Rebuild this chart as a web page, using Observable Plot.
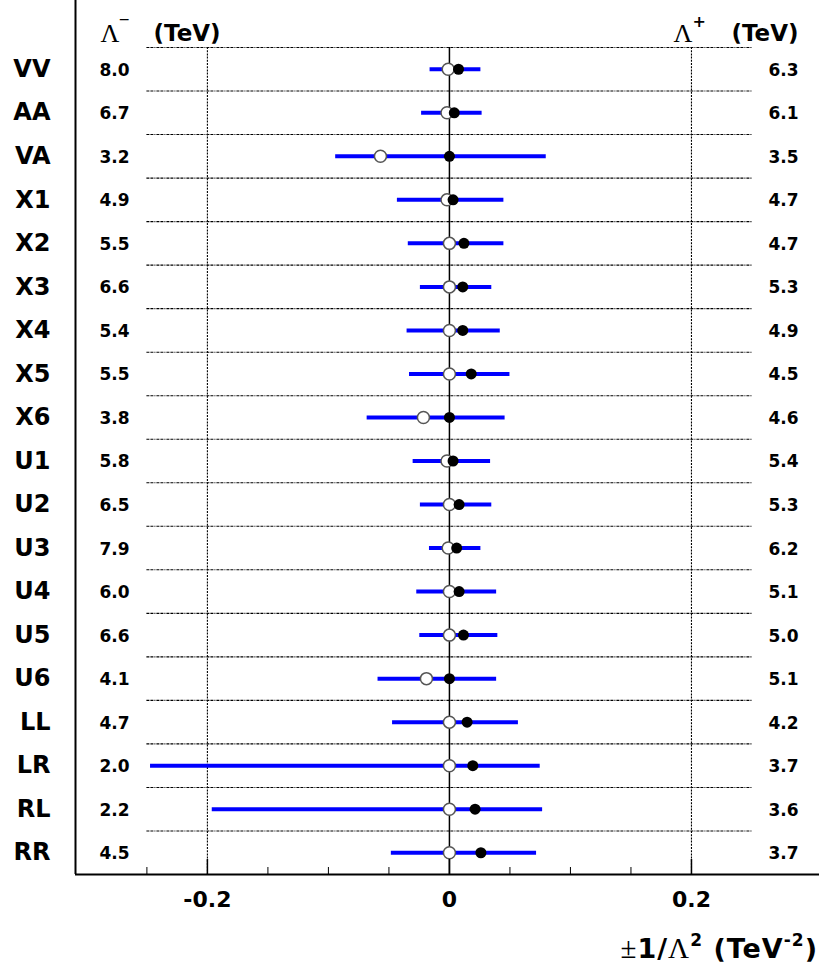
<!DOCTYPE html>
<html><head><meta charset="utf-8">
<script src="https://cdn.jsdelivr.net/npm/d3@7"></script>
<script src="https://cdn.jsdelivr.net/npm/@observablehq/plot@0.6"></script>
<style>body{margin:0;background:#fff} svg{display:block}</style>
</head><body><div id="chart"></div>
<script>
const names = ["VV","AA","VA","X1","X2","X3","X4","X5","X6","U1","U2","U3","U4","U5","U6","LL","LR","RL","RR"];
const lamMinus = [8.0,6.7,3.2,4.9,5.5,6.6,5.4,5.5,3.8,5.8,6.5,7.9,6.0,6.6,4.1,4.7,2.0,2.2,4.5];
const lamPlus = [6.3,6.1,3.5,4.7,4.7,5.3,4.9,4.5,4.6,5.4,5.3,6.2,5.1,5.0,5.1,4.2,3.7,3.6,3.7];
const lo = [-0.016,-0.023,-0.094,-0.043,-0.034,-0.024,-0.035,-0.033,-0.068,-0.030,-0.024,-0.0165,-0.027,-0.0245,-0.059,-0.047,-0.247,-0.196,-0.048];
const hi = [0.026,0.027,0.080,0.045,0.045,0.035,0.042,0.050,0.046,0.034,0.035,0.026,0.039,0.040,0.039,0.057,0.075,0.077,0.072];
const openPt = [-0.001,-0.002,-0.057,-0.002,0,0,0,0,-0.0215,-0.002,0,-0.001,0,0,-0.019,0,0,0,0];
const filledPt = [0.0075,0.004,0,0.003,0.012,0.011,0.011,0.018,0,0.003,0.008,0.006,0.008,0.0116,0,0.0146,0.0193,0.0212,0.026];
const majorTicks = [-0.2, 0, 0.2];
const minorTicks = [-0.25, -0.15, -0.1, -0.05, 0.05, 0.1, 0.15];
const xDomain = [-0.309, 0.3058];
const sepRange = [-0.25, 0.25];

const rows = names.map((name, i) => ({i, name, lm: lamMinus[i], lp: lamPlus[i], lo: lo[i], hi: hi[i], op: openPt[i], fp: filledPt[i]}));
const seps = d3.range(names.length).map(i => i - 0.5);
const yDom = [-0.5, names.length - 0.5];
const sans = "DejaVu Sans";
const serif = "Liberation Serif";
const fmt = d => d === 0 ? "0" : d.toFixed(1);

const chart = Plot.plot({
  width: 819, height: 978,
  marginLeft: 75, marginRight: 0, marginTop: 0, marginBottom: 104,
  style: {fontFamily: sans, background: "white", color: "black"},
  x: {domain: xDomain, axis: null},
  y: {domain: yDom, range: [47, 874], axis: null},
  marks: [
    Plot.ruleY(seps, {y: d => d, x1: sepRange[0], x2: sepRange[1], stroke: "black", strokeWidth: 1.1, strokeDasharray: "3,1,3,1,1,1"}),
    Plot.ruleX([-0.2, 0.2], {x: d => d, y1: yDom[0], y2: yDom[1], stroke: "black", strokeWidth: 1.1, strokeDasharray: "2,1.2"}),
    Plot.ruleX([0], {x: d => d, y1: yDom[0], y2: yDom[1], stroke: "black", strokeWidth: 1.5}),
    Plot.ruleY(rows, {y: "i", x1: "lo", x2: "hi", stroke: "#0000ff", strokeWidth: 4}),
    Plot.dot(rows, {x: "op", y: "i", r: 6, fill: "white", stroke: "#555", strokeWidth: 1.5}),
    Plot.dot(rows, {x: "fp", y: "i", r: 5.5, fill: "black"}),
    Plot.ruleX([xDomain[0]], {x: d => d, stroke: "black", strokeWidth: 2}),
    Plot.ruleY([yDom[1]], {y: d => d, stroke: "black", strokeWidth: 2}),
    Plot.axisX(minorTicks, {tickSize: -7, tickFormat: () => "", strokeWidth: 1}),
    Plot.axisX(majorTicks, {tickSize: -15, tickFormat: () => "", strokeWidth: 1.5}),
    Plot.text(majorTicks, {x: d => d, text: fmt, frameAnchor: "bottom", dy: 32, fontSize: 22, fontWeight: "bold"}),
    Plot.text(rows, {y: "i", text: "name", frameAnchor: "left", dx: -25, textAnchor: "end", fontSize: 24, fontWeight: "bold"}),
    Plot.text(rows, {y: "i", text: d => d.lm.toFixed(1), frameAnchor: "left", dx: 24, dy: 1, textAnchor: "start", fontSize: 17, fontWeight: "bold"}),
    Plot.text(rows, {y: "i", text: d => d.lp.toFixed(1), frameAnchor: "right", dx: -21, dy: 1, textAnchor: "end", fontSize: 17, fontWeight: "bold"}),
    Plot.text(["Λ"], {text: d => d, frameAnchor: "top-left", dx: 25, dy: 23, textAnchor: "start", fontSize: 26, fontFamily: serif}),
    Plot.text(["−"], {text: d => d, frameAnchor: "top-left", dx: 43, dy: 14, textAnchor: "start", fontSize: 14}),
    Plot.text(["(TeV)"], {text: d => d, frameAnchor: "top-left", dx: 78, dy: 24, textAnchor: "start", fontSize: 23, fontWeight: "bold"}),
    Plot.text(["Λ"], {text: d => d, frameAnchor: "top-right", dx: -146, dy: 23, textAnchor: "start", fontSize: 26, fontFamily: serif}),
    Plot.text(["+"], {text: d => d, frameAnchor: "top-right", dx: -127, dy: 15, textAnchor: "start", fontSize: 16, fontWeight: "bold"}),
    Plot.text(["(TeV)"], {text: d => d, frameAnchor: "top-right", dx: -21, dy: 24, textAnchor: "end", fontSize: 23, fontWeight: "bold"})
  ]
});
document.getElementById("chart").appendChild(chart);

const svg = d3.select(chart);
// x-axis title with mixed fonts and superscripts
const t = svg.append("text")
  .attr("x", 818).attr("y", 958)
  .attr("text-anchor", "end")
  .attr("font-family", sans).attr("font-weight", "bold").attr("font-size", 27)
  .attr("letter-spacing", 1)
  .attr("fill", "black");
t.append("tspan").attr("font-family", serif).attr("font-weight", "normal").attr("font-size", 29).text("±");
t.append("tspan").text("1/");
t.append("tspan").attr("font-family", serif).attr("font-weight", "normal").attr("font-size", 29).text("Λ");
t.append("tspan").attr("font-size", 17).attr("dy", -12).text("2");
t.append("tspan").attr("dy", 12).text(" (TeV");
t.append("tspan").attr("font-size", 17).attr("dy", -12).text("-2");
t.append("tspan").attr("dy", 12).text(")");
</script>
</body></html>
